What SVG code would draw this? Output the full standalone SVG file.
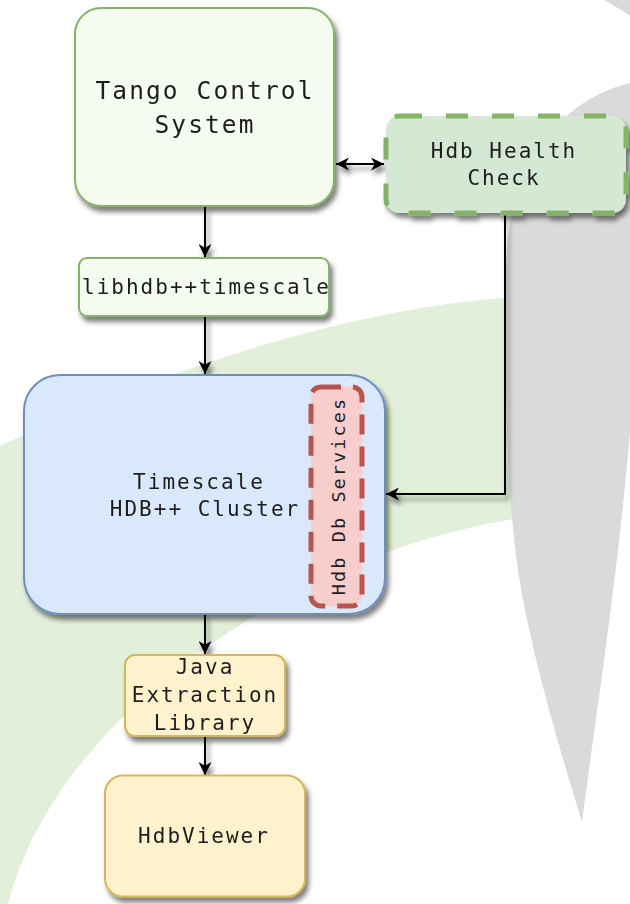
<svg xmlns="http://www.w3.org/2000/svg" width="630" height="904" viewBox="0 0 630 904">
<defs>
<style>
text{font-family:"DejaVu Sans Mono","Liberation Mono",monospace;fill:#1e1e1e;text-anchor:middle}
.t{font-size:21px;letter-spacing:2px}
.big{font-size:24.5px;letter-spacing:2.1px}
.sm{font-size:18.5px;letter-spacing:2.1px}
.conn{fill:none;stroke:#000;stroke-width:2}
.green{fill:#f6fbf1;stroke:#82b366;stroke-width:2}
.blue{fill:#dae8fc;stroke:#6c8ebf;stroke-width:2}
.yellow{fill:#fff2cc;stroke:#d6b656;stroke-width:2}
</style>
<filter id="sh" x="-20%" y="-20%" width="150%" height="150%">
<feDropShadow dx="3" dy="5" stdDeviation="2.5" flood-color="#000" flood-opacity="0.5"/>
</filter>
<marker id="arr" viewBox="0 0 12 12" markerWidth="13" markerHeight="13" refX="12" refY="6" orient="auto-start-reverse" markerUnits="userSpaceOnUse">
<path d="M0,0 L12,6 L0,12 L3.5,6 Z" fill="#000"/>
</marker>
</defs>
<rect width="630" height="904" fill="#fff"/>
<g id="background">
<path d="M530,296 Q300,308 0,446 L0,904 L8,904 C40,780 150,670 300,590 C380,550 460,525 530,517 Z" fill="#e2efd9"/>
<path d="M630,83 C590,92 545,125 525,170 C508,210 504,260 505,320 C506,420 508,500 518,570 C530,650 560,750 582,822 C590,760 605,660 618,550 C624,500 630,440 632,400 L632,83 Z" fill="#dadada"/>
<path d="M604,0 C613,5 622,10 630,16 L630,0 Z" fill="#dadada"/>
</g>
<g id="connectors" filter="url(#sh)">
<path class="conn" d="M205,207 V257" marker-end="url(#arr)"/>
<path class="conn" d="M205,316 V374" marker-end="url(#arr)"/>
<path class="conn" d="M505,215 V494 H386" marker-end="url(#arr)"/>
<path class="conn" d="M205,614 V654" marker-end="url(#arr)"/>
<path class="conn" d="M205,736 V775" marker-end="url(#arr)"/>
<path class="conn" d="M336,164 H384" marker-start="url(#arr)" marker-end="url(#arr)"/>
</g>
<g id="tango" filter="url(#sh)">
<rect class="green" x="75" y="8" width="259" height="198" rx="26"/>
<text class="big" x="205" y="99">Tango Control</text>
<text class="big" x="205" y="132.5">System</text>
</g>
<g id="health" filter="url(#sh)">
<rect x="386" y="116" width="240" height="97" rx="14" fill="#d5e8d4" stroke="#82b366" stroke-width="5" stroke-dasharray="22 24"/>
<text class="t" x="504" y="157.5">Hdb Health</text>
<text class="t" x="504" y="185">Check</text>
</g>
<g id="libhdb" filter="url(#sh)">
<rect class="green" x="79" y="258" width="250" height="58" rx="8"/>
<text class="t" x="206.5" y="293.5">libhdb++timescale</text>
</g>
<g id="timescale" filter="url(#sh)">
<rect class="blue" x="24" y="375" width="361" height="239" rx="36"/>
<text class="t" x="199" y="488.5">Timescale</text>
<text class="t" x="205" y="516">HDB++ Cluster</text>
</g>
<g id="services">
<rect x="311" y="387" width="51" height="219" rx="10" fill="#f8cecc" stroke="#b85450" stroke-width="5" stroke-dasharray="20 12"/>
<text class="sm" transform="translate(345,496) rotate(-90)">Hdb Db Services</text>
</g>
<g id="java" filter="url(#sh)">
<rect class="yellow" x="125" y="655" width="160" height="81" rx="10"/>
<text class="t" x="205" y="674">Java</text>
<text class="t" x="205" y="702">Extraction</text>
<text class="t" x="205" y="730">Library</text>
</g>
<g id="hdbviewer" filter="url(#sh)">
<rect class="yellow" x="105" y="775.5" width="200" height="121" rx="18"/>
<text class="t" x="204" y="842.5">HdbViewer</text>
</g>
</svg>
